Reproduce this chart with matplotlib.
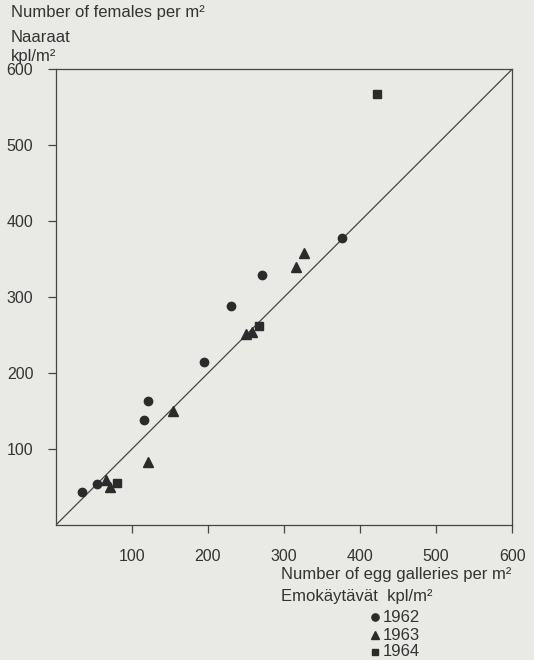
import matplotlib
matplotlib.use("Agg")
import matplotlib.pyplot as plt

# --------------------- Data ---------------------
galleries_1962 = [35, 54, 116, 122, 195, 231, 271, 377]
females_1962 = [44, 54, 138, 164, 215, 289, 329, 378]

galleries_1963 = [66, 71, 122, 155, 250, 258, 316, 326]
females_1963 = [60, 50, 83, 151, 252, 254, 340, 358]

galleries_1964 = [81, 267, 423]
females_1964 = [56, 262, 567]

ticks = [100, 200, 300, 400, 500, 600]
years = ["1962", "1963", "1964"]

# --------------------- Style ---------------------
PAPER = "#e9e9e6"
INK = "#2b2b2b"
LINE = "#454545"
TEXT = "#333333"
FS = 12

plt.rcParams["font.family"] = ["Liberation Sans", "DejaVu Sans"]

fig = plt.figure(figsize=(5.34, 6.6), dpi=100, facecolor=PAPER)
ax = fig.add_axes([0.104, 0.204, 0.855, 0.691])
ax.set_facecolor(PAPER)

# 1:1 reference line
ax.plot([0, 600], [0, 600], color=LINE, lw=0.9, zorder=1)

ms = 6.0
ax.plot(galleries_1962, females_1962, "o", color=INK, ms=ms, mec=INK, zorder=3)
ax.plot(galleries_1963, females_1963, "^", color=INK, ms=ms + 0.6, mec=INK, zorder=3)
ax.plot(galleries_1964, females_1964, "s", color=INK, ms=ms - 0.5, mec=INK, zorder=3)

ax.set_xlim(0, 600)
ax.set_ylim(0, 600)
ax.set_xticks(ticks)
ax.set_yticks(ticks)
ax.tick_params(direction="out", length=6, width=0.9, colors=LINE,
               labelcolor=TEXT, labelsize=11.5)
ax.tick_params(axis="x", pad=11)
ax.tick_params(axis="y", pad=10)
for sp in ax.spines.values():
    sp.set_color(LINE)
    sp.set_linewidth(0.9)

W, H = 534, 660


def put(px, py, s, **kw):
    fig.text(px / W, 1 - py / H, s, fontsize=FS, color=TEXT, va="center", **kw)


put(11, 12, "Number of females per m²")
put(11, 37, "Naaraat")
put(11, 56, "kpl/m²")

put(281, 574, "Number of egg galleries per m²")
put(281, 597, "Emokäytävät  kpl/m²")

# legend block under the axis title
for (mk, dy, yr) in zip(["o", "^", "s"], [617, 635, 652], years):
    fig.lines.append(plt.Line2D([375 / W], [1 - dy / H], marker=mk, color=INK,
                                ms=5.2 if mk != "s" else 4.8, ls="none",
                                transform=fig.transFigure))
    put(383, dy, yr)

fig.savefig("out.png", dpi=100, facecolor=PAPER)
